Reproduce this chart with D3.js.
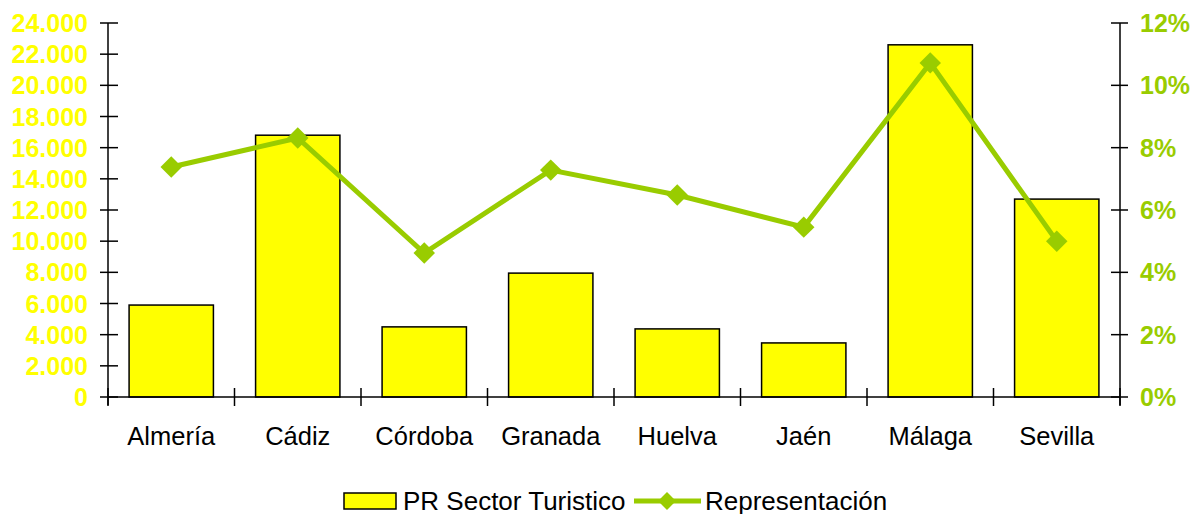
<!DOCTYPE html>
<meta charset="utf-8">
<style>
  body { margin: 0; background: #fff; }
  text { font-family: "Liberation Sans", Arial, sans-serif; }
</style>
<svg width="1192" height="514"></svg>
<script src="https://d3js.org/d3.v7.min.js"></script>
<script>
var provincias = ["Almería", "Cádiz", "Córdoba", "Granada", "Huelva", "Jaén", "Málaga", "Sevilla"];
var sectorTuristico = [5900, 16800, 4500, 7950, 4370, 3470, 22600, 12700];
var representacion = [7.38, 8.31, 4.62, 7.28, 6.48, 5.45, 10.72, 5.0];
var ticksIzq = [0, 2000, 4000, 6000, 8000, 10000, 12000, 14000, 16000, 18000, 20000, 22000, 24000];
var ticksDer = [0, 2, 4, 6, 8, 10, 12];

(function () {
    var svg = d3.select("svg"),
        left = 108, right = 1120, top = 23, bottom = 397,
        verde = "#99cc00", amarillo = "#ffff00";

    var x = d3.scaleBand().domain(provincias).range([left, right]),
        y = d3.scaleLinear().domain([0, 24000]).range([bottom, top]),
        y2 = d3.scaleLinear().domain([0, 12]).range([bottom, top]),
        bw = x.bandwidth(),
        miles = function (v) { return d3.format(",")(v).replace(/,/g, "."); };

    // barras
    svg.append("g").selectAll("rect")
        .data(sectorTuristico)
        .enter().append("rect")
        .attr("x", function (d, i) { return x(provincias[i]) + bw / 6; })
        .attr("y", function (d) { return y(d); })
        .attr("width", bw * 2 / 3)
        .attr("height", function (d) { return y(0) - y(d); })
        .attr("fill", amarillo)
        .attr("stroke", "#000")
        .attr("stroke-width", 1.5);

    // eje izquierdo
    var gl = svg.append("g");
    gl.append("line").attr("x1", left).attr("x2", left).attr("y1", top).attr("y2", bottom + 8)
        .attr("stroke", "#000").attr("stroke-width", 1.5);
    gl.selectAll(".t").data(ticksIzq).enter().append("line")
        .attr("x1", left - 8).attr("x2", left + 10)
        .attr("y1", function (d) { return y(d); }).attr("y2", function (d) { return y(d); })
        .attr("stroke", "#000").attr("stroke-width", 1.5);
    gl.selectAll("text").data(ticksIzq).enter().append("text")
        .attr("x", 88).attr("y", function (d) { return y(d); })
        .attr("dy", "0.36em").attr("text-anchor", "end")
        .attr("font-size", 25).attr("font-weight", "bold").attr("fill", amarillo)
        .text(miles);

    // eje derecho
    var gr = svg.append("g");
    gr.append("line").attr("x1", right).attr("x2", right).attr("y1", top).attr("y2", bottom + 8)
        .attr("stroke", "#000").attr("stroke-width", 1.5);
    gr.selectAll(".t").data(ticksDer).enter().append("line")
        .attr("x1", right - 9).attr("x2", right + 8)
        .attr("y1", function (d) { return y2(d); }).attr("y2", function (d) { return y2(d); })
        .attr("stroke", "#000").attr("stroke-width", 1.5);
    gr.selectAll("text").data(ticksDer).enter().append("text")
        .attr("x", 1140).attr("y", function (d) { return y2(d); })
        .attr("dy", "0.36em").attr("text-anchor", "start")
        .attr("font-size", 25).attr("font-weight", "bold").attr("fill", verde)
        .text(function (d) { return d + "%"; });

    // eje de categorías
    var gx = svg.append("g");
    gx.append("line").attr("x1", left).attr("x2", right).attr("y1", bottom).attr("y2", bottom)
        .attr("stroke", "#000").attr("stroke-width", 1.5);
    gx.selectAll(".t").data(provincias.concat([null])).enter().append("line")
        .attr("x1", function (d, i) { return left + i * bw; })
        .attr("x2", function (d, i) { return left + i * bw; })
        .attr("y1", bottom - 9).attr("y2", bottom + 9)
        .attr("stroke", "#000").attr("stroke-width", 1.5);
    gx.selectAll("text").data(provincias).enter().append("text")
        .attr("x", function (d) { return x(d) + bw / 2; })
        .attr("y", 445).attr("text-anchor", "middle")
        .attr("font-size", 25.5).attr("fill", "#000")
        .text(function (d) { return d; });

    // línea
    var linea = d3.line()
        .x(function (d, i) { return x(provincias[i]) + bw / 2; })
        .y(function (d) { return y2(d); });
    svg.append("path").datum(representacion)
        .attr("d", linea).attr("fill", "none")
        .attr("stroke", verde).attr("stroke-width", 5);
    var diamante = d3.symbol().type(d3.symbolSquare).size(230);
    svg.append("g").selectAll("path").data(representacion).enter().append("path")
        .attr("d", diamante)
        .attr("transform", function (d, i) {
            return "translate(" + (x(provincias[i]) + bw / 2) + "," + y2(d) + ") rotate(45)";
        })
        .attr("fill", verde);

    // leyenda
    var lg = svg.append("g");
    lg.append("rect").attr("x", 344).attr("y", 493).attr("width", 52).attr("height", 16)
        .attr("fill", amarillo).attr("stroke", "#000").attr("stroke-width", 1.5);
    lg.append("text").attr("x", 403).attr("y", 510).attr("font-size", 26)
        .attr("fill", "#000").text("PR Sector Turistico");
    lg.append("line").attr("x1", 634).attr("x2", 701).attr("y1", 501).attr("y2", 501)
        .attr("stroke", verde).attr("stroke-width", 5);
    lg.append("path").attr("d", d3.symbol().type(d3.symbolSquare).size(160))
        .attr("transform", "translate(667,501) rotate(45)").attr("fill", verde);
    lg.append("text").attr("x", 705).attr("y", 510).attr("font-size", 26)
        .attr("fill", "#000").text("Representación");
})();
</script>
